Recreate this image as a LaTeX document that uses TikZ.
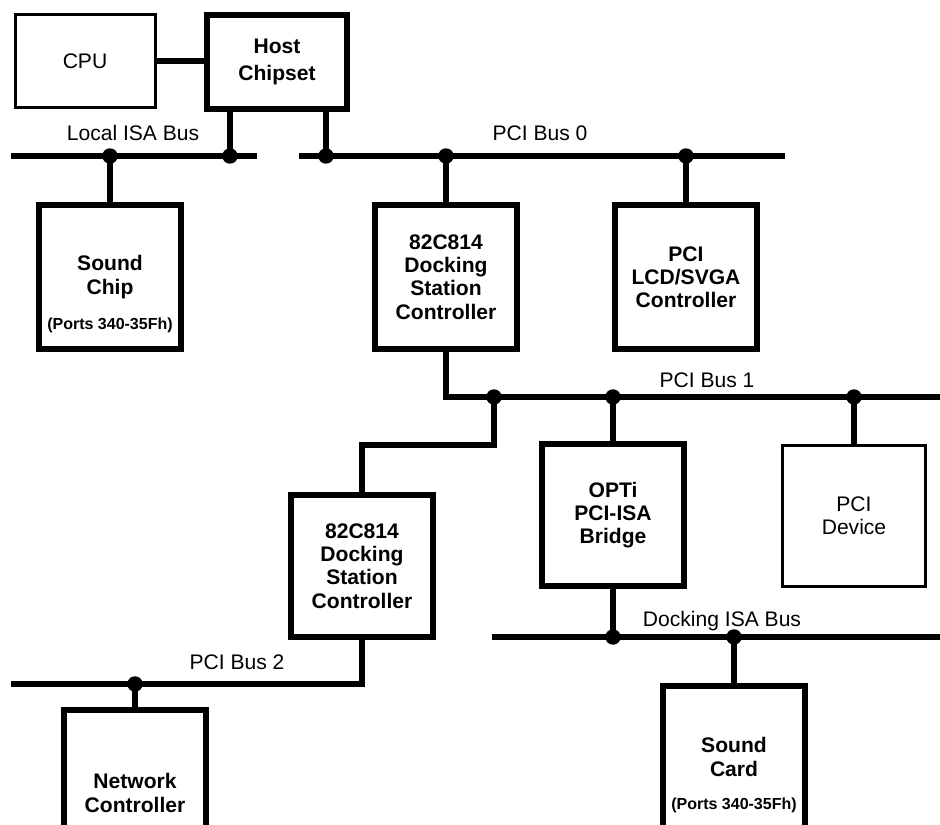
\documentclass[tikz,border=0pt]{standalone}
\usepackage{fontspec}
\setmainfont{Liberation Sans}
\usetikzlibrary{calc}

\newcommand\diagfont{\fontsize{15.8}{17.4}\selectfont}
\newcommand\portsfont{\fontsize{12}{14}\selectfont}

\begin{document}
\begin{tikzpicture}[
   x = 0.75pt, y = -0.75pt,
   box/.style = {draw, line width=4.5pt, inner sep=0pt, outer sep=0pt, align=center,
                 minimum width=107pt, minimum height=106pt, font=\diagfont\bfseries},
   thinbox/.style = {box, line width=2.25pt, font=\diagfont},
   bus/.style = {line width=4.8pt},
   lbl/.style = {anchor=base, inner sep=0pt, font=\diagfont},
   ports/.style = {inner sep=0pt, font=\portsfont\bfseries}]
   \clip (0,0) rectangle (940,825);

   % boxes
   \node[thinbox, minimum width=105pt, minimum height=70pt] (cpu) at (85,61) {CPU};
   \node[box, minimum width=105pt, minimum height=70pt] (host) at (277,62) {Host\\[3pt]Chipset};
   \node[box, minimum height=108pt] (sndchip) at (110,277) {Sound\\Chip};
   \node[ports] (chipports) at (110,325) {(Ports 340-35Fh)};
   \node[box, minimum height=108pt] (dsc1) at (446,277) {82C814\\Docking\\Station\\Controller};
   \node[box, minimum height=108pt] (lcd) at (686,277) {PCI\\LCD/SVGA\\Controller};
   \node[box] (bridge) at (613,515) {OPTi\\PCI-ISA\\Bridge};
   \node[thinbox] (pcidev) at (854,516) {PCI\\Device};
   \node[box] (dsc2) at (362,566) {82C814\\Docking\\Station\\Controller};
   \node[box, minimum height=125pt] (netctl) at (135,793) {Network\\Controller};
   \node[box] (sndcard) at (734,757) {Sound\\Card};
   \node[ports] (cardports) at (734,805) {(Ports 340-35Fh)};

   % bus ends and taps
   \coordinate (lisaW) at (11,156);
   \coordinate (lisaE) at (257,156);
   \coordinate (pci0W) at (299,156);
   \coordinate (pci0E) at (785,156);
   \coordinate (j-snd) at (110,156);
   \coordinate (j-hostisa) at (230,156);
   \coordinate (j-hostpci) at (326,156);
   \coordinate (j-dsc1) at (446,156);
   \coordinate (j-lcd) at (686,156);
   \coordinate (pci1E) at (940,397);
   \coordinate (j-dsc2) at (494,397);
   \coordinate (j-bridge) at (613,397);
   \coordinate (j-dev) at (854,397);
   \coordinate (bend) at (362,445);
   \coordinate (disaW) at (492,637);
   \coordinate (disaE) at (940,637);
   \coordinate (j-isa) at (613,637);
   \coordinate (j-card) at (734,637);
   \coordinate (pci2W) at (11,684);
   \coordinate (j-net) at (135,684);

   % buses
   \draw[bus] (cpu) -- (cpu -| host.west);
   \draw[bus] (lisaW) -- (lisaE);
   \draw[bus] (pci0W) -- (pci0E);
   \draw[bus] (j-hostisa |- host.south) -- (j-hostisa);
   \draw[bus] (j-hostpci |- host.south) -- (j-hostpci);
   \draw[bus] (j-snd) -- (sndchip.north);
   \draw[bus] (j-dsc1) -- (dsc1.north);
   \draw[bus] (j-lcd) -- (lcd.north);
   \draw[bus] (dsc1.south) |- (pci1E);
   \draw[bus] (j-bridge) -- (bridge.north);
   \draw[bus] (j-dev) -- (pcidev.north);
   \draw[bus] (j-dsc2) |- (bend) -- (dsc2.north);
   \draw[bus] (bridge.south) -- (j-isa);
   \draw[bus] (disaW) -- (disaE);
   \draw[bus] (j-card) -- (sndcard.north);
   \draw[bus] (dsc2.south) |- (pci2W);
   \draw[bus] (j-net) -- (netctl.north);

   \foreach \j in {j-snd, j-hostisa, j-hostpci, j-dsc1, j-lcd, j-dsc2, j-bridge, j-dev, j-isa, j-card, j-net}
      \fill (\j) circle (5.8pt);

   % bus names
   \node[lbl] (lisalbl) at (133,140.5) {Local ISA Bus};
   \node[lbl] (pci0lbl) at (540,140.5) {PCI Bus 0};
   \node[lbl] (pci1lbl) at (707,387.5) {PCI Bus 1};
   \node[lbl] (disalbl) at (722,626.5) {Docking ISA Bus};
   \node[lbl] (pci2lbl) at (237,669.5) {PCI Bus 2};
\end{tikzpicture}
\end{document}
